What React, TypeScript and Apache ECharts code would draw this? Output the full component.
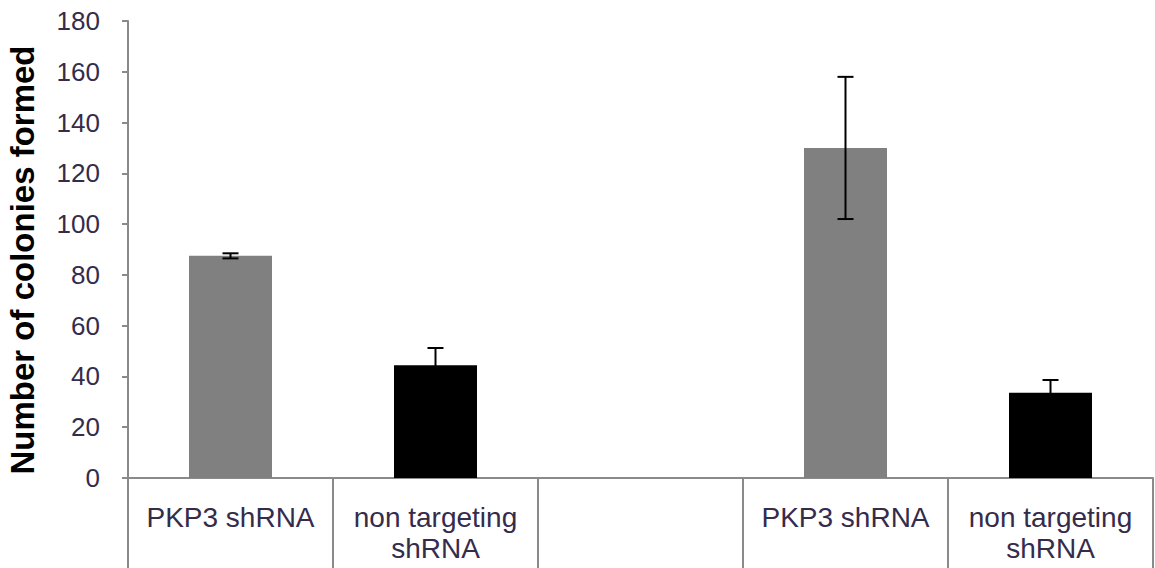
import React, { useEffect, useRef } from "react";
import * as echarts from "echarts";

const categories = ["PKP3 shRNA", "non targeting\nshRNA", "", "PKP3 shRNA", "non targeting\nshRNA"];
const values: (number | null)[] = [87.5, 44.4, null, 130, 33.6];
const errors: (number | null)[] = [1, 6.8, null, 28, 5];
const barColors = ["#808080", "#000000", "#000000", "#808080", "#000000"];
const yTicks = { min: 0, max: 180, interval: 20 };

export default function App() {
  const ref = useRef<HTMLDivElement>(null);
  useEffect(() => {
    if (!ref.current) return;
    const chart = echarts.init(ref.current, null, { renderer: "svg" });
    const labelColor = "#352b4b";
    const font = "'Liberation Sans', Arial, sans-serif";
    chart.setOption({
      animation: false,
      backgroundColor: "#ffffff",
      grid: { left: 128, right: 2, top: 21, bottom: 90, containLabel: false },
      xAxis: {
        type: "category",
        data: categories,
        boundaryGap: true,
        axisLine: { show: true, lineStyle: { color: "#8a8a8a", width: 2 } },
        axisTick: { show: true, interval: 0, length: 92, lineStyle: { color: "#8a8a8a", width: 2 } },
        axisLabel: {
          interval: 0,
          color: labelColor,
          fontFamily: font,
          fontSize: 28,
          lineHeight: 31,
          margin: 24,
          verticalAlign: "top",
        },
      },
      yAxis: {
        type: "value",
        min: yTicks.min,
        max: yTicks.max,
        interval: yTicks.interval,
        splitLine: { show: false },
        axisLine: { show: true, lineStyle: { color: "#8a8a8a", width: 2 } },
        axisTick: { show: true, length: 6, lineStyle: { color: "#8a8a8a", width: 2 } },
        axisLabel: { color: labelColor, fontFamily: font, fontSize: 26, margin: 28 },
      },
      graphic: [
        {
          type: "text",
          x: 22,
          y: 260,
          rotation: Math.PI / 2,
          style: {
            text: "Number of colonies formed",
            font: `bold 33px ${font}`,
            fill: "#000000",
            align: "center",
            verticalAlign: "middle",
          },
        },
      ],
      series: [
        {
          type: "bar",
          barWidth: 83,
          data: values.map((v, i) =>
            v == null ? "-" : { value: v, itemStyle: { color: barColors[i] } }
          ),
          z: 2,
        },
        {
          type: "custom",
          z: 3,
          data: values.map((v, i) => [i, v, errors[i]]),
          renderItem: (params: any, api: any) => {
            const v = api.value(1);
            const e = api.value(2);
            if (v == null || isNaN(v) || e == null || isNaN(e)) return null;
            const i = api.value(0);
            const top = api.coord([i, v + e]);
            const bot = api.coord([i, v - e]);
            const hw = 8;
            const style = { stroke: "#000000", lineWidth: 2 };
            return {
              type: "group",
              children: [
                { type: "line", shape: { x1: top[0], y1: top[1], x2: bot[0], y2: bot[1] }, style },
                { type: "line", shape: { x1: top[0] - hw, y1: top[1], x2: top[0] + hw, y2: top[1] }, style },
                { type: "line", shape: { x1: bot[0] - hw, y1: bot[1], x2: bot[0] + hw, y2: bot[1] }, style },
              ],
            };
          },
        },
      ],
    });
    return () => chart.dispose();
  }, []);
  return <div ref={ref} style={{ width: 1155, height: 568, position: "absolute", left: 0, top: 0 }} />;
}
